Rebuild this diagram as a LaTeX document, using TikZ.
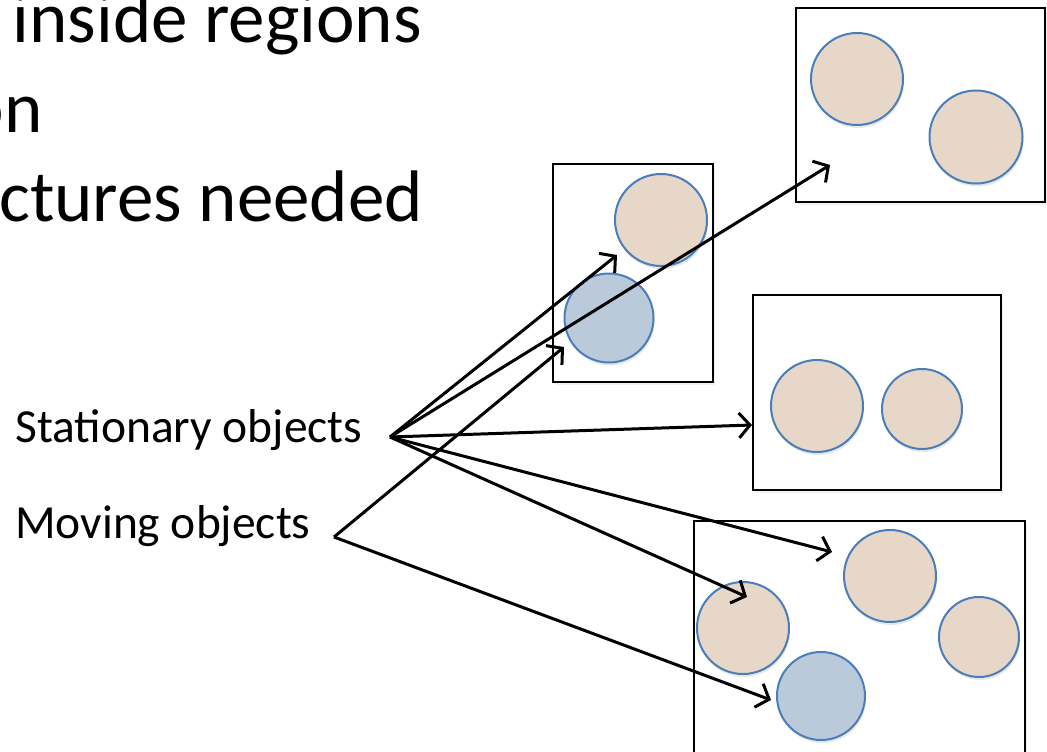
\documentclass[tikz,border=0pt]{standalone}
\usepackage{fontspec}
\setmainfont{Carlito}
\usetikzlibrary{arrows.meta,shadows}
\definecolor{beige}{HTML}{E6D7C9}
\definecolor{bluefill}{HTML}{BBCADB}
\definecolor{ringblue}{HTML}{4A7EBB}
\tikzset{
  obj/.style={circle,draw=ringblue,line width=2pt,inner sep=0pt,outer sep=0pt,
    drop shadow={opacity=0.18,shadow xshift=1pt,shadow yshift=-3pt}},
  stat/.style={obj,fill=beige},
  mov/.style={obj,fill=bluefill},
  region/.style={draw=black,line width=2.3pt,fill=white,
    drop shadow={opacity=0.12,shadow xshift=2pt,shadow yshift=-3pt}},
  arr/.style={line width=3pt,-{Straight Barb[length=11pt,width=25pt,line width=3pt]}},
  big/.style={font=\fontsize{73}{88}\selectfont,inner sep=0pt},
  lbl/.style={font=\fontsize{47.5}{57}\selectfont,inner sep=0pt}
}
\begin{document}
\begin{tikzpicture}[x=1pt,y=-1pt]
\useasboundingbox (0,0) rectangle (1047,752);
% title fragments
\node[big,anchor=base east] (t1) at (422,43) {inside regions};
\node[big,anchor=base east] (t2) at (43,132) {on};
\node[big,anchor=base east] (t3) at (423,221) {ctures needed};
% labels
\node[lbl,anchor=base west] (st) at (15,442) {Stationary objects};
\node[lbl,anchor=base west] (mv) at (15,538) {Moving objects};
\coordinate (so) at (390,437);
\coordinate (mo) at (334,537);
% regions
\path[region] (796,8) rectangle (1045,202);
\path[region] (553,164) rectangle (713,382);
\path[region] (753,295) rectangle (1001,490);
\path[region] (694,521) rectangle (1025,780);
% top-right region
\node[stat,minimum size=92pt] (r1a) at (857,79) {};
\node[stat,minimum size=93pt] (r1b) at (976,137) {};
% middle small region
\node[stat,minimum size=92pt] (r2a) at (661,220) {};
\node[mov,minimum size=89pt] (r2b) at (609,318) {};
% middle-right region
\node[stat,minimum size=92pt] (r3a) at (817,406) {};
\node[stat,minimum size=80pt] (r3b) at (922,409) {};
% bottom region
\node[stat,minimum size=92pt] (r4a) at (743,628) {};
\node[stat,minimum size=92pt] (r4b) at (890,576) {};
\node[stat,minimum size=80pt] (r4c) at (979,637) {};
\node[mov,minimum size=88pt] (r4d) at (821,696) {};
% arrow targets
\coordinate (e1) at (830,165);
\coordinate (e2) at (617,255);
\coordinate (e3) at (564,347);
\coordinate (e4) at (752,425);
\coordinate (e5) at (832,552);
\coordinate (e6) at (747,597);
\coordinate (e7) at (771,700);
% connectors
\draw[arr] (so) -- (e1);
\draw[arr] (so) -- (e2);
\draw[arr] (so) -- (e4);
\draw[arr] (so) -- (e5);
\draw[arr] (so) -- (e6);
\draw[arr] (mo) -- (e3);
\draw[arr] (mo) -- (e7);
\end{tikzpicture}
\end{document}
